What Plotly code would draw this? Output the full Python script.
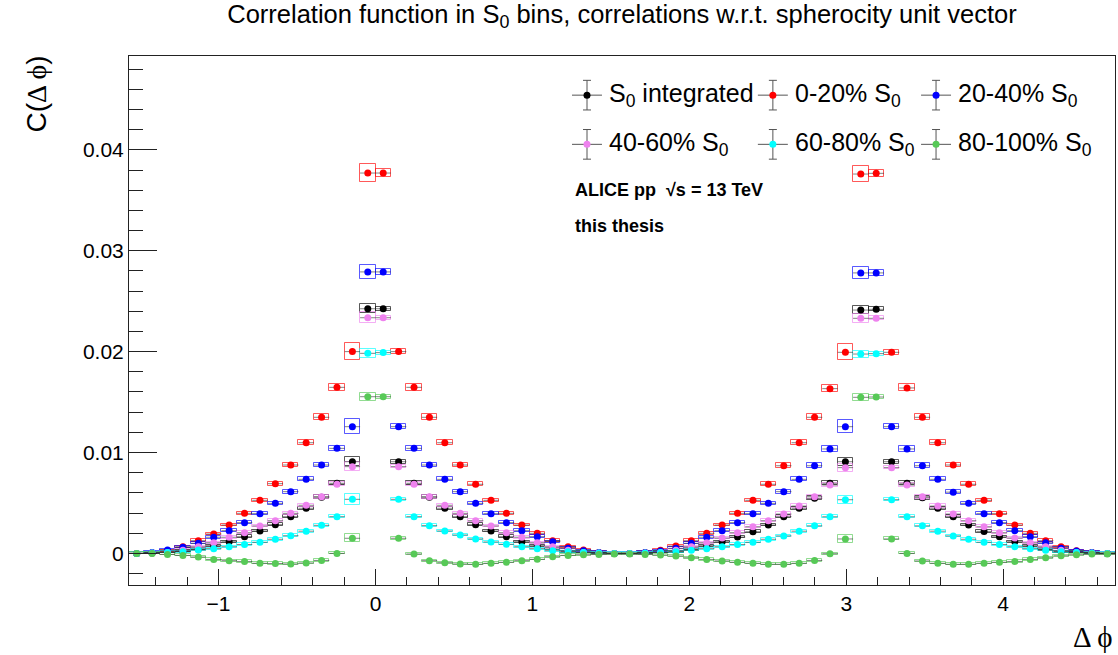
import numpy as np
import plotly.graph_objects as go

# ---------------- data ----------------
n_bins = 64
bin_w = np.pi / 32
centers = -np.pi / 2 + (np.arange(n_bins) + 0.5) * bin_w

s0_integrated = [
    0.0, 0.00003, 0.0001, 0.0002, 0.00044, 0.00077, 0.00116, 0.00166, 0.00222, 0.00285, 0.00364, 0.00447, 0.00556, 0.00695, 0.00909, 0.02425,
    0.02425, 0.00909, 0.00695, 0.00556, 0.00447, 0.00364, 0.00285, 0.00222, 0.00166, 0.00116, 0.00077, 0.00044, 0.00018, 0.0001, 0.00003, 0.0,
    0.0, 0.00003, 0.0001, 0.00018, 0.00044, 0.00077, 0.00116, 0.00162, 0.00215, 0.00281, 0.00364, 0.00447, 0.00546, 0.00695, 0.00909, 0.02412,
    0.02419, 0.00909, 0.00695, 0.00552, 0.00447, 0.00364, 0.00281, 0.00218, 0.00164, 0.00116, 0.00077, 0.00044, 0.00018, 0.0001, 0.00003, 0.0]

s0_0_20 = [
    0.0, 0.00005, 0.0002, 0.00066, 0.00126, 0.00192, 0.00281, 0.00397, 0.00526, 0.00691, 0.00876, 0.01097, 0.01349, 0.01646, 0.0200, 0.0377,
    0.0377, 0.0200, 0.01646, 0.01349, 0.01097, 0.00876, 0.00685, 0.00526, 0.00397, 0.00281, 0.00199, 0.00126, 0.00066, 0.00033, 0.0001, 0.0,
    0.0, 0.0001, 0.0003, 0.00073, 0.00126, 0.00199, 0.00281, 0.00397, 0.00526, 0.00685, 0.00869, 0.01097, 0.01349, 0.01633, 0.01993, 0.0376,
    0.03767, 0.01993, 0.0164, 0.01349, 0.01097, 0.00876, 0.00685, 0.00526, 0.00394, 0.00281, 0.00199, 0.00126, 0.00066, 0.00027, 0.0001, 0.0]

s0_20_40 = [
    0.0, 0.0001, 0.00034, 0.0006, 0.001, 0.0016, 0.00225, 0.00305, 0.00394, 0.00496, 0.00612, 0.00734, 0.00876, 0.01041, 0.01256, 0.0279,
    0.0279, 0.01256, 0.01041, 0.00876, 0.00734, 0.00612, 0.00496, 0.00394, 0.00305, 0.00225, 0.00166, 0.00116, 0.0005, 0.00027, 0.0001, 0.0,
    0.0, 0.0001, 0.00025, 0.0005, 0.001, 0.0016, 0.00225, 0.00305, 0.00394, 0.00496, 0.00612, 0.00734, 0.00869, 0.01035, 0.01256, 0.0278,
    0.0278, 0.01256, 0.01035, 0.00869, 0.00734, 0.00607, 0.00496, 0.00394, 0.00305, 0.00225, 0.00166, 0.00105, 0.0005, 0.00025, 0.0001, 0.0]

s0_40_60 = [
    0.0, 0.00003, 0.0001, 0.0003, 0.00066, 0.00106, 0.0016, 0.00205, 0.00272, 0.00324, 0.00397, 0.00477, 0.00562, 0.00685, 0.0086, 0.02336,
    0.02336, 0.0086, 0.00685, 0.00562, 0.00477, 0.00397, 0.00324, 0.00272, 0.00205, 0.0016, 0.00106, 0.00066, 0.0003, 0.0001, 0.00003, 0.0,
    0.0, 0.00003, 0.0001, 0.0003, 0.00066, 0.00106, 0.00152, 0.00205, 0.00264, 0.00324, 0.0039, 0.00469, 0.00562, 0.00678, 0.0085, 0.0233,
    0.0233, 0.0085, 0.00678, 0.00562, 0.00469, 0.0039, 0.00324, 0.00264, 0.00205, 0.00152, 0.00106, 0.00066, 0.0003, 0.0001, 0.00003, 0.0]

s0_60_80 = [
    0.0, 0.00003, 0.0001, 0.00017, 0.00034, 0.00047, 0.00066, 0.00088, 0.0011, 0.0014, 0.00175, 0.0022, 0.00278, 0.00364, 0.00536, 0.01983,
    0.0199, 0.00536, 0.00364, 0.00275, 0.00222, 0.00182, 0.00143, 0.00113, 0.0009, 0.00066, 0.00047, 0.00027, 0.00017, 0.0001, 0.00003, 0.0,
    0.0, 0.00003, 0.0001, 0.00017, 0.0003, 0.00047, 0.00066, 0.00088, 0.0011, 0.0014, 0.00173, 0.0022, 0.00273, 0.00363, 0.00532, 0.01976,
    0.0198, 0.00532, 0.00363, 0.00273, 0.0022, 0.00173, 0.0014, 0.0011, 0.00088, 0.00066, 0.00047, 0.0003, 0.00017, 0.0001, 0.00003, 0.0]

s0_80_100 = [
    0.0, 0.0, -0.0001, -0.0002, -0.00036, -0.0006, -0.00072, -0.0008, -0.00098, -0.001, -0.00105, -0.00095, -0.0007, 0.0, 0.0015, 0.01553,
    0.01553, 0.0015, -0.00006, -0.00072, -0.00092, -0.00105, -0.00108, -0.00098, -0.00088, -0.00072, -0.00059, -0.00033, -0.0002, -0.00013, -0.0001, -0.00007,
    -0.00007, -0.0001, -0.00016, -0.00026, -0.00043, -0.0006, -0.00075, -0.00088, -0.00098, -0.00108, -0.00108, -0.00098, -0.0007, -0.00003, 0.00143, 0.01547,
    0.0155, 0.00143, 0.0, -0.00075, -0.00098, -0.00108, -0.00108, -0.00098, -0.00088, -0.0008, -0.0006, -0.00043, -0.00023, -0.00013, -0.00007, -0.00007]

# systematic uncertainties (half box heights): relative part + floor, larger near the peaks
sys_rel = 0.015
sys_floor = 0.0001
peak_bins = [14, 15, 16, 17, 46, 47, 48, 49]
sys_peak = {
    "int":   [0.00045, 0.00045, 0.0002, 0.00018, 0.0004, 0.0004, 0.0002, 0.00018],
    "0-20":  [0.00088, 0.0009, 0.00038, 0.00026, 0.0008, 0.0008, 0.00035, 0.00025],
    "20-40": [0.00072, 0.0007, 0.00033, 0.00025, 0.00063, 0.00058, 0.0003, 0.00025],
    "40-60": [0.00045, 0.00055, 0.0002, 0.00018, 0.0004, 0.00045, 0.0002, 0.00018],
    "60-80": [0.00053, 0.00045, 0.0002, 0.00015, 0.0004, 0.00035, 0.0002, 0.00015],
    "80-100": [0.00038, 0.0004, 0.0002, 0.00015, 0.00035, 0.00035, 0.0002, 0.00015],
}

series = [
    ("int", "S<sub>0</sub> integrated", s0_integrated, "#000000"),
    ("0-20", "0-20% S<sub>0</sub>", s0_0_20, "#ff0000"),
    ("20-40", "20-40% S<sub>0</sub>", s0_20_40, "#0000ff"),
    ("40-60", "40-60% S<sub>0</sub>", s0_40_60, "#ee82ee"),
    ("60-80", "60-80% S<sub>0</sub>", s0_60_80, "#00ffff"),
    ("80-100", "80-100% S<sub>0</sub>", s0_80_100, "#57c957"),
]


def rgba(hexc, a):
    h = hexc.lstrip("#")
    return "rgba(%d,%d,%d,%.2f)" % (int(h[0:2], 16), int(h[2:4], 16), int(h[4:6], 16), a)


fig = go.Figure()

# systematic boxes
for key, name, vals, col in series:
    v = np.array(vals)
    sys = sys_rel * np.abs(v) + sys_floor
    for b, s in zip(peak_bins, sys_peak[key]):
        sys[b] = s
    fig.add_trace(go.Bar(
        x=centers, y=2 * sys, base=v - sys, width=bin_w,
        marker=dict(color="rgba(0,0,0,0)", line=dict(color=rgba(col, 0.65), width=1)),
        showlegend=False, hoverinfo="skip"))

# points with horizontal bin-width bars
for key, name, vals, col in series:
    fig.add_trace(go.Scatter(
        x=centers, y=vals, mode="markers", name=name,
        marker=dict(color=col, size=7, symbol="circle"),
        error_x=dict(type="constant", value=bin_w / 2, color="rgba(50,50,50,0.6)",
                     thickness=1, width=0),
        showlegend=False))

# ---------------- custom legend (ROOT style) ----------------
leg_x = [0.4645, 0.653, 0.8185]
leg_y = [0.926, 0.833]
text_dx = 0.0205
for idx, (key, name, vals, col) in enumerate(series):
    r, c = divmod(idx, 3)
    fig.add_trace(go.Scatter(
        x=[leg_x[c]], y=[leg_y[r]], xaxis="x2", yaxis="y2", mode="markers",
        marker=dict(color=col, size=7),
        error_x=dict(type="constant", value=0.0152, color="#555555", thickness=1, width=0),
        error_y=dict(type="constant", value=0.028, color="#555555", thickness=1, width=4),
        showlegend=False, hoverinfo="skip"))
    fig.add_annotation(x=leg_x[c] + text_dx, y=leg_y[r], xref="x2", yref="y2",
                       text=name, showarrow=False, xanchor="left", yanchor="middle",
                       font=dict(size=25, color="black"))

fig.add_annotation(x=0.4503, y=0.747, xref="paper", yref="paper",
                   text="<b>ALICE pp  √s = 13 TeV</b>", showarrow=False,
                   xanchor="left", yanchor="middle", font=dict(size=18, color="black"))
fig.add_annotation(x=0.4503, y=0.679, xref="paper", yref="paper",
                   text="<b>this thesis</b>", showarrow=False,
                   xanchor="left", yanchor="middle", font=dict(size=18, color="black"))

# axis titles
fig.add_annotation(x=1, y=0, xref="paper", yref="paper", xanchor="right", yanchor="top",
                   yshift=-34, showarrow=False,
                   text="<span style='font-family:Liberation Serif'>Δ ϕ</span>",
                   font=dict(size=29, color="black"))
fig.add_annotation(x=0, y=1, xref="paper", yref="paper", xanchor="center", yanchor="top",
                   xshift=-93, yshift=2, showarrow=False, textangle=-90,
                   text="C(<span style='font-family:Liberation Serif'>Δ ϕ</span>)",
                   font=dict(size=28, color="black"))

axis_common = dict(showline=True, linecolor="#222222", linewidth=1, mirror=True,
                   showgrid=False, zeroline=False, ticks="inside", tickcolor="#222222",
                   tickfont=dict(size=21, color="black"))

fig.update_layout(
    width=1118, height=655,
    margin=dict(l=129, r=3, t=56, b=70),
    plot_bgcolor="white", paper_bgcolor="white",
    font=dict(family="Liberation Sans, Arial, sans-serif", color="black"),
    barmode="overlay", bargap=0, showlegend=False,
    title=dict(text="Correlation function in S<sub>0</sub> bins, correlations w.r.t. spherocity unit vector",
               x=0.5, xref="paper", xanchor="center", y=0.979, yref="container", yanchor="middle",
               font=dict(size=25.5, color="black")),
    xaxis=dict(range=[-np.pi / 2, 3 * np.pi / 2], tick0=0, dtick=1, ticklen=16,
               minor=dict(ticks="inside", dtick=0.2, tick0=0, ticklen=8, tickcolor="#222222"),
               **axis_common),
    yaxis=dict(range=[-0.003132, 0.04930], tick0=0, dtick=0.01, ticklen=28,
               minor=dict(ticks="inside", dtick=0.002, tick0=0, ticklen=14, tickcolor="#222222"),
               **axis_common),
    xaxis2=dict(range=[0, 1], overlaying="x", visible=False),
    yaxis2=dict(range=[0, 1], overlaying="y", visible=False),
)

# remove the default 8 px page margin so the figure fills the 1118x655 window exactly
fig.write_html("out.html", config={"displayModeBar": False},
               post_script="document.body.style.margin='0px';document.body.style.overflow='hidden';")
